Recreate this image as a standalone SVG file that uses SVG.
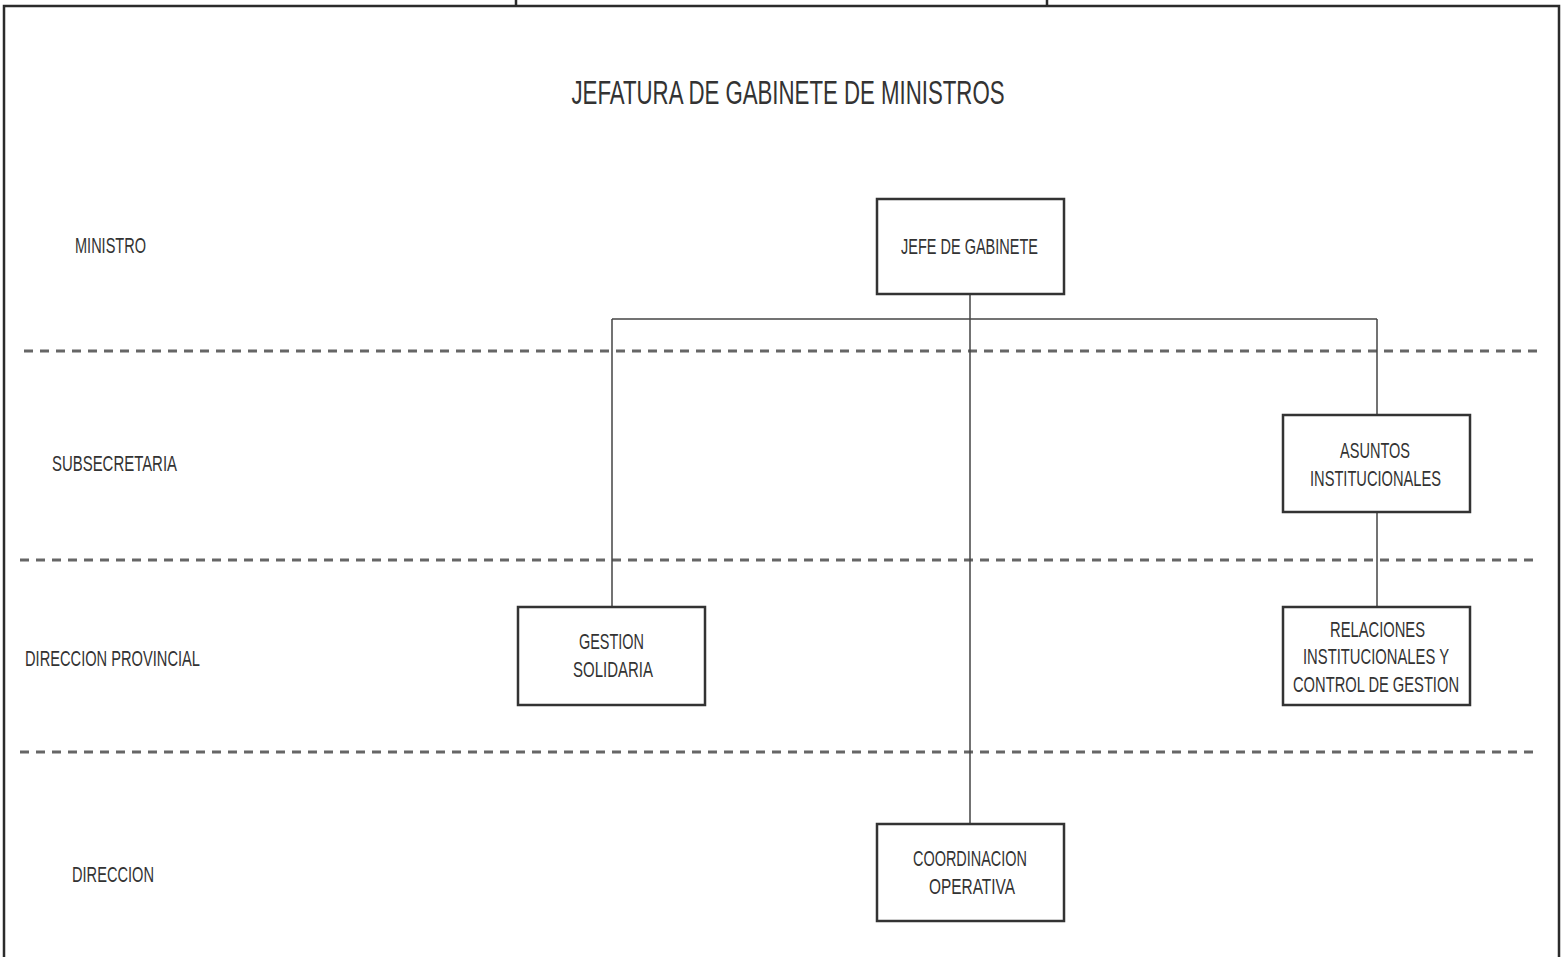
<svg xmlns="http://www.w3.org/2000/svg" width="1563" height="957" viewBox="0 0 1563 957">
<style>
.frame{fill:none;stroke:#2b2b2b;stroke-width:2.5}
.box{fill:#fff;stroke:#333;stroke-width:2.5}
.conn{fill:none;stroke:#444;stroke-width:1.5}
.dash{fill:none;stroke:#666;stroke-width:3;stroke-dasharray:9 7}
text{font-family:"Liberation Sans",Arial,sans-serif;fill:#333;font-size:22px;text-anchor:middle}
.lvl{text-anchor:start}
.title{font-size:33px}
</style>
<rect width="1563" height="957" fill="#fff"/>
<path class="frame" d="M4,957 V6 H1559 V957 M516,0 V6 M1047,0 V6"/>
<text class="title" x="788" y="104" textLength="433" lengthAdjust="spacingAndGlyphs">JEFATURA DE GABINETE DE MINISTROS</text>
<g id="levels">
<line class="dash" x1="24" y1="351" x2="1540" y2="351"/>
<line class="dash" x1="20" y1="560" x2="1540" y2="560"/>
<line class="dash" x1="20" y1="752" x2="1538" y2="752"/>
<text class="lvl" x="75" y="253" textLength="71" lengthAdjust="spacingAndGlyphs">MINISTRO</text>
<text class="lvl" x="52" y="471" textLength="125" lengthAdjust="spacingAndGlyphs">SUBSECRETARIA</text>
<text class="lvl" x="25" y="666" textLength="175" lengthAdjust="spacingAndGlyphs">DIRECCION PROVINCIAL</text>
<text class="lvl" x="72" y="882" textLength="82" lengthAdjust="spacingAndGlyphs">DIRECCION</text>
</g>
<g id="connectors">
<path class="conn" d="M970,294 V824"/>
<path class="conn" d="M612,319 H1377"/>
<path class="conn" d="M612,319 V607"/>
<path class="conn" d="M1377,319 V415"/>
<path class="conn" d="M1377,512 V607"/>
</g>
<g id="jefe">
<rect class="box" x="877" y="199" width="187" height="95"/>
<text x="969.5" y="254" textLength="137" lengthAdjust="spacingAndGlyphs">JEFE DE GABINETE</text>
</g>
<g id="asuntos">
<rect class="box" x="1283" y="415" width="187" height="97"/>
<text x="1375" y="458" textLength="70" lengthAdjust="spacingAndGlyphs">ASUNTOS</text>
<text x="1375.5" y="486" textLength="131" lengthAdjust="spacingAndGlyphs">INSTITUCIONALES</text>
</g>
<g id="gestion">
<rect class="box" x="518" y="607" width="187" height="98"/>
<text x="611.5" y="649" textLength="65" lengthAdjust="spacingAndGlyphs">GESTION</text>
<text x="613" y="677" textLength="80" lengthAdjust="spacingAndGlyphs">SOLIDARIA</text>
</g>
<g id="relaciones">
<rect class="box" x="1283" y="607" width="187" height="98"/>
<text x="1377.5" y="637" textLength="95" lengthAdjust="spacingAndGlyphs">RELACIONES</text>
<text x="1376" y="664" textLength="146" lengthAdjust="spacingAndGlyphs">INSTITUCIONALES Y</text>
<text x="1376" y="692" textLength="166" lengthAdjust="spacingAndGlyphs">CONTROL DE GESTION</text>
</g>
<g id="coordinacion">
<rect class="box" x="877" y="824" width="187" height="97"/>
<text x="970" y="866" textLength="114" lengthAdjust="spacingAndGlyphs">COORDINACION</text>
<text x="972" y="894" textLength="86" lengthAdjust="spacingAndGlyphs">OPERATIVA</text>
</g>
</svg>
